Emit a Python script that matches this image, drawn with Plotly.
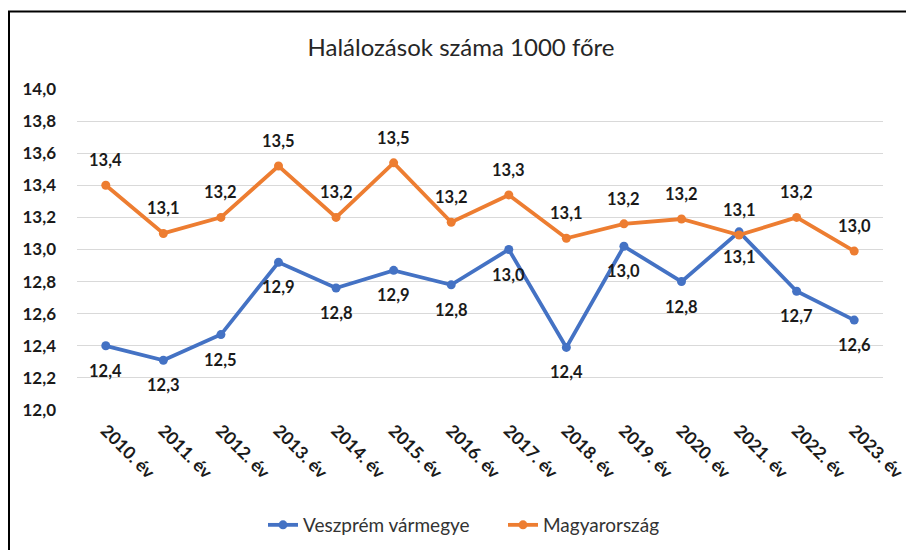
import plotly.graph_objects as go

years = ["2010. év", "2011. év", "2012. év", "2013. év", "2014. év", "2015. év", "2016. év",
         "2017. év", "2018. év", "2019. év", "2020. év", "2021. év", "2022. év", "2023. év"]
veszprem = [12.40, 12.31, 12.47, 12.92, 12.76, 12.87, 12.78, 13.00, 12.39, 13.02, 12.80, 13.11, 12.74, 12.56]
magyar = [13.40, 13.10, 13.20, 13.52, 13.20, 13.54, 13.17, 13.34, 13.07, 13.16, 13.19, 13.09, 13.20, 12.99]
y_ticks = [12.0, 12.2, 12.4, 12.6, 12.8, 13.0, 13.2, 13.4, 13.6, 13.8, 14.0]

FONT = "Lato"
BLUE = "#4472C4"
ORANGE = "#ED7D31"
TXT = "#1a1a1a"

W, H = 914, 550
ML, MR, MT, MB = 69, 39, 81, 148
pw, ph = W - ML - MR, H - MT - MB

def px_x(x):
    return (x - ML) / pw

def px_y(y):
    return 1 - (y - MT) / ph

def fmt(v):
    return f"{v:.1f}".replace(".", ",")

fig = go.Figure()
fig.add_trace(go.Scatter(
    x=years, y=veszprem, name="Veszprém vármegye", mode="lines+markers",
    line=dict(color=BLUE, width=3.8), marker=dict(color=BLUE, size=9),
))
fig.add_trace(go.Scatter(
    x=years, y=magyar, name="Magyarország", mode="lines+markers",
    line=dict(color=ORANGE, width=3.8), marker=dict(color=ORANGE, size=9),
))

annotations = []
lab_font = dict(family=FONT, size=16.5, color=TXT, weight="bold")
for cat, v in zip(years, veszprem):
    annotations.append(dict(x=cat, y=v, xref="x", yref="y", text=fmt(v), showarrow=False,
                            yshift=-25, font=lab_font))
for cat, v in zip(years, magyar):
    annotations.append(dict(x=cat, y=v, xref="x", yref="y", text=fmt(v), showarrow=False,
                            yshift=25, font=lab_font))

fig.update_layout(
    width=W, height=H,
    margin=dict(l=ML, r=MR, t=MT, b=MB, autoexpand=False),
    paper_bgcolor="white", plot_bgcolor="white",
    separators=", ",
    title=dict(text="Halálozások száma 1000 főre", x=px_x(453), xref="paper", xanchor="center",
               y=1 - 40 / H, yanchor="middle",
               font=dict(family=FONT, size=24, color="#262626")),
    showlegend=True,
    legend=dict(orientation="h", x=px_x(255), xanchor="left", xref="paper",
                y=px_y(517), yanchor="middle",
                font=dict(family=FONT, size=19, color="#333333"),
                entrywidth=195, entrywidthmode="pixels",
                tracegroupgap=0),
    xaxis=dict(
        type="category", range=[-0.5, len(years) - 0.5], tickangle=45,
        showgrid=False, showline=False, ticks="",
        tickfont=dict(family=FONT, size=17.5, color=TXT, weight="bold"),
        ticklabelstandoff=6, automargin=False,
    ),
    yaxis=dict(
        range=[12.0, 14.0], tickvals=y_ticks, tickformat=".1f",
        showgrid=True, gridcolor="#D9D9D9", gridwidth=1, zeroline=False,
        showline=False, ticks="",
        tickfont=dict(family=FONT, size=17, color=TXT, weight="bold"),
        ticklabelstandoff=20, automargin=False,
    ),
    annotations=annotations,
    shapes=[dict(type="rect", xref="paper", yref="paper",
                 x0=px_x(1), x1=px_x(940), y0=px_y(580), y1=px_y(3.5),
                 line=dict(color="#000000", width=2), fillcolor="rgba(0,0,0,0)",
                 layer="above")],
)

fig.write_html("out.html")
